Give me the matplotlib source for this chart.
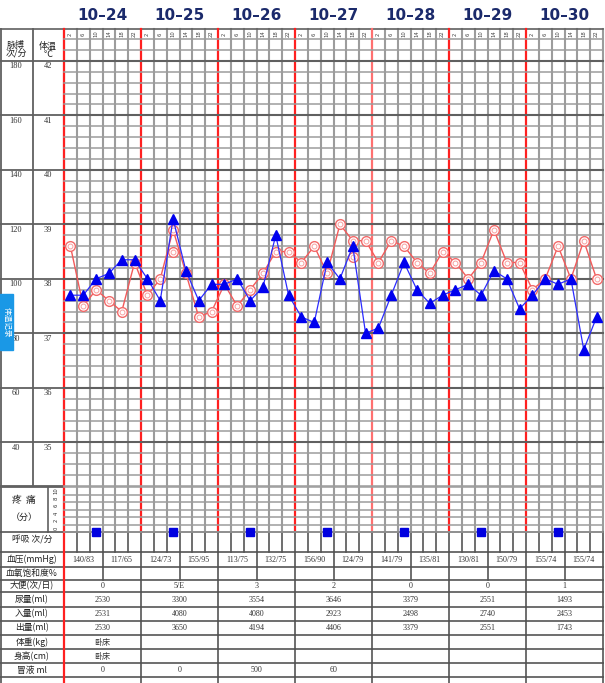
import matplotlib
matplotlib.use('Agg')
import matplotlib.pyplot as plt
from matplotlib.transforms import blended_transform_factory
from matplotlib.patches import Rectangle

plt.rcParams['font.family'] = ['Noto Sans CJK SC', 'DejaVu Sans']

# ---------------- data ----------------
dates = ['10–24', '10–25', '10–26', '10–27', '10–28', '10–29', '10–30']
hours = ['2', '6', '10', '14', '18', '22']
temperature = [38.6, 37.5, 37.8, 37.6, 37.4, 38.3,
               37.7, 38.0, 38.9, 38.1, 37.3, 37.4,
               37.9, 37.5, 37.8, 38.1, 38.5, 38.5,
               38.3, 38.6, 38.1, 39.0, 38.7, 38.7,
               38.3, 38.7, 38.6, 38.3, 38.1, 38.5,
               38.3, 38.0, 38.3, 38.9, 38.3, 38.3,
               37.8, 38.0, 38.6, 38.0, 38.7, 38.0]
pulse = [94, 94, 100, 102, 107, 107,
         100, 92, 122, 103, 92, 98,
         98, 100, 92, 97, 116, 94,
         86, 84, 106, 100, 112, 80,
         82, 94, 106, 96, 91, 94,
         96, 98, 94, 103, 100, 89,
         94, 100, 98, 100, 74, 86]
recheck_slot = [8, 22]
recheck_temp = [38.5, 38.4]
pain_slot = [2, 8, 14, 20, 26, 32, 38]
pain = [0, 0, 0, 0, 0, 0, 0]
temp_ticks = [42, 41, 40, 39, 38, 37, 36, 35]
pulse_ticks = [180, 160, 140, 120, 100, 80, 60, 40]
pain_ticks = ['10', '8', '6', '4', '2', '0']
bp = ['140/83', '117/65', '124/73', '155/95', '113/75', '132/75', '156/90',
      '124/79', '141/79', '135/81', '130/81', '150/79', '155/74', '155/74']
stool = ['0', '5/E', '3', '2', '0', '0', '1']
urine = ['2530', '3300', '3554', '3646', '3379', '2551', '1493']
intake = ['2531', '4080', '4080', '2923', '2498', '2740', '2453']
output = ['2530', '3650', '4194', '4406', '3379', '2551', '1743']
weight = ['卧床', '', '', '', '', '', '']
height = ['卧床', '', '', '', '', '', '']
gastric = ['0', '0', '500', '60', '', '', '']

# ---------------- layout ----------------
W, H = 605, 683
fig = plt.figure(figsize=(W / 100, H / 100), dpi=100)
base = fig.add_axes([0, 0, 1, 1])
base.set_xlim(0, W)
base.set_ylim(H, 0)
base.axis('off')

XL, XR = 64, 603
NS = 42
SPD = 6
sw = (XR - XL) / NS
dw = sw * SPD
Y_HEAD, Y_CT, Y_CB, Y_PT, Y_PB = 29, 39, 486, 487, 532
T_TOP, T_BOT = 42.4, 34.2

GRID = '#9c9c9c'
DARK = '#606060'
TLINE = '#555555'
RED = '#ff2020'


def rect(x0, y0, x1, y1):
    return [x0 / W, 1 - y1 / H, (x1 - x0) / W, (y1 - y0) / H]


ax = fig.add_axes(rect(XL, Y_CT, XR, Y_CB))
ax.set_xlim(0, NS)
ax.set_ylim(T_BOT, T_TOP)
ax.axis('off')
ax.patch.set_visible(False)

axp = fig.add_axes(rect(XL, Y_CT, XR, Y_CB))
axp.set_xlim(0, NS)
axp.set_ylim(20 * T_BOT - 660, 20 * T_TOP - 660)
axp.axis('off')
axp.patch.set_visible(False)

axpain = fig.add_axes(rect(XL, Y_PT, XR, Y_PB))
axpain.set_xlim(0, NS)
axpain.set_ylim(0, 12)
axpain.axis('off')
axpain.patch.set_visible(False)

# date labels
for d, lab in enumerate(dates):
    base.text(XL + (d + 0.5) * dw, 15, lab, ha='center', va='center',
              fontsize=11, fontweight='bold', color='#1b2a6b', family='DejaVu Sans')

# header row (hours)
base.plot([0, XR], [Y_HEAD, Y_HEAD], color=DARK, lw=1.2)
for i in range(NS):
    base.text(XL + (i + 0.5) * sw, (Y_HEAD + Y_CT) / 2, hours[i % SPD], rotation=90,
              ha='center', va='center', fontsize=3.8, color='#444444', family='DejaVu Sans')

# horizontal temperature grid
bt = blended_transform_factory(base.transData, ax.transData)
nlines = int(round((T_TOP - T_BOT) / 0.2))
for k in range(nlines + 1):
    t = T_BOT + 0.2 * k
    is_deg = abs(t - round(t)) < 1e-6
    ax.axhline(t, color=DARK if is_deg else GRID, lw=1.5 if is_deg else 1.1, zorder=1, clip_on=False)
for t in temp_ticks + [T_BOT]:
    base.plot([0, XL], [t, t], transform=bt, color=DARK, lw=1.3)
for t, p in zip(temp_ticks, pulse_ticks):
    base.text(16, t - 0.1, str(p), transform=bt, ha='center', va='center',
              fontsize=6, color='#333333', family='Liberation Serif')
    base.text(48, t - 0.1, str(t), transform=bt, ha='center', va='center',
              fontsize=6, color='#333333', family='Liberation Serif')

# left header
base.text(16, 50, '脉搏\n次/分', ha='center', va='center', fontsize=6.5, linespacing=0.9, color='#222222')
base.text(48, 50, '体温\n℃', ha='center', va='center', fontsize=6.5, linespacing=0.9, color='#222222')
base.plot([0.6, 0.6], [Y_HEAD, H], color=DARK, lw=1.3)
base.plot([33, 33], [Y_HEAD, Y_CB], color=DARK, lw=1.3)

# vertical grid in chart, header, pain
for k in range(NS + 1):
    x = XL + k * sw
    if k % SPD == 0 and 0 < k < NS:
        continue
    base.plot([x, x], [Y_HEAD, Y_PB], color=GRID, lw=1.5, zorder=1)
for d in range(1, 7):
    x = XL + d * dw
    base.plot([x, x], [Y_HEAD, Y_PB], color='#ff7070' if d == 4 else RED, lw=1.6, zorder=2)

# pain grid
for v in range(0, 13, 2):
    axpain.axhline(v, color=GRID, lw=1.1, zorder=1, clip_on=False)
base.plot([0, XL], [Y_PT, Y_PT], color=DARK, lw=1.3)
base.plot([47.5, 47.5], [Y_PT, Y_PB], color=DARK, lw=1.2)
ptr = blended_transform_factory(base.transData, axpain.transData)
for j, lab in enumerate(pain_ticks):
    base.text(56, 11 - 2 * j, lab, transform=ptr, rotation=90, ha='center', va='center',
              fontsize=3.8, color='#333333', family='DejaVu Sans')
base.text(24, 500, '疼  痛', ha='center', va='center', fontsize=7, color='#222222')
base.text(24, 517, '（分）', ha='center', va='center', fontsize=6.5, color='#222222')

# blue tab
base.add_patch(Rectangle((0, 294), 13, 56, color='#1a98e6', zorder=5))
base.text(6.5, 322, '体温记录', rotation=-90, ha='center', va='center', fontsize=5.5,
          color='white', zorder=6)

# ---------------- data marks ----------------
xs = [i + 0.5 for i in range(NS)]
ax.plot(xs, temperature, color='#f25a5a', lw=1.0, zorder=4)
ax.plot(xs, temperature, ls='none', marker='o', ms=7, mfc='white', mec='#f36b6b', mew=1.0, zorder=5)
ax.plot(xs, temperature, ls='none', marker='o', ms=3.5, mfc='none', mec='#f7a0a0', mew=0.7, zorder=6)
rx = [s + 0.5 for s in recheck_slot]
ax.plot(rx, recheck_temp, ls='none', marker='o', ms=7, mfc='white', mec='#f36b6b', mew=1.0, zorder=5)
ax.plot(rx, recheck_temp, ls='none', marker='o', ms=3.5, mfc='none', mec='#f7a0a0', mew=0.7, zorder=6)

axp.plot(xs, pulse, color='#2b2bff', lw=0.9, marker='^', ms=7, mfc='#0000ee', mec='#0000ee', zorder=7)

axpain.plot([s + 0.5 for s in pain_slot], pain, ls='none', marker='s', ms=6,
            mfc='#0000e0', mec='#0000e0', clip_on=False, zorder=8)

# ---------------- bottom table ----------------
rows = [(532, 552, '呼吸 次/分', 'slot', None),
        (552, 567, '血压(mmHg)', 'half', bp),
        (567, 580, '血氧饱和度%', 'half', None),
        (580, 592, '大便(次/日)', 'day', stool),
        (592, 607, '尿量(ml)', 'day', urine),
        (607, 621, '入量(ml)', 'day', intake),
        (621, 635, '出量(ml)', 'day', output),
        (635, 649, '体重(kg)', 'day', weight),
        (649, 663, '身高(cm)', 'day', height),
        (663, 677, '冒液 ml', 'day', gastric),
        (677, 690, '', 'day', None)]
for y0, y1, lab, kind, vals in rows:
    base.plot([0, XR], [y0, y0], color=TLINE, lw=1.2)
    if lab:
        yl = 540 if kind == 'slot' else (y0 + y1) / 2
        base.text(32, yl, lab, ha='center', va='center', fontsize=6.3, color='#222222')
    step = {'slot': 1, 'half': 3, 'day': 6}[kind]
    for k in range(step, NS + 1, step):
        x = XL + k * sw
        base.plot([x, x], [y0, y1], color=TLINE, lw=1.2)
    if vals:
        ncell = NS // step
        for c in range(ncell):
            if vals[c]:
                base.text(XL + (c + 0.5) * step * sw, (y0 + y1) / 2 + 0.5, vals[c],
                          ha='center', va='center', fontsize=5.8, color='#333333',
                          family=['Liberation Serif', 'Noto Sans CJK SC'])
base.plot([XL, XL], [Y_HEAD, H], color=RED, lw=1.6, zorder=3)

fig.savefig('out.png', dpi=100)
